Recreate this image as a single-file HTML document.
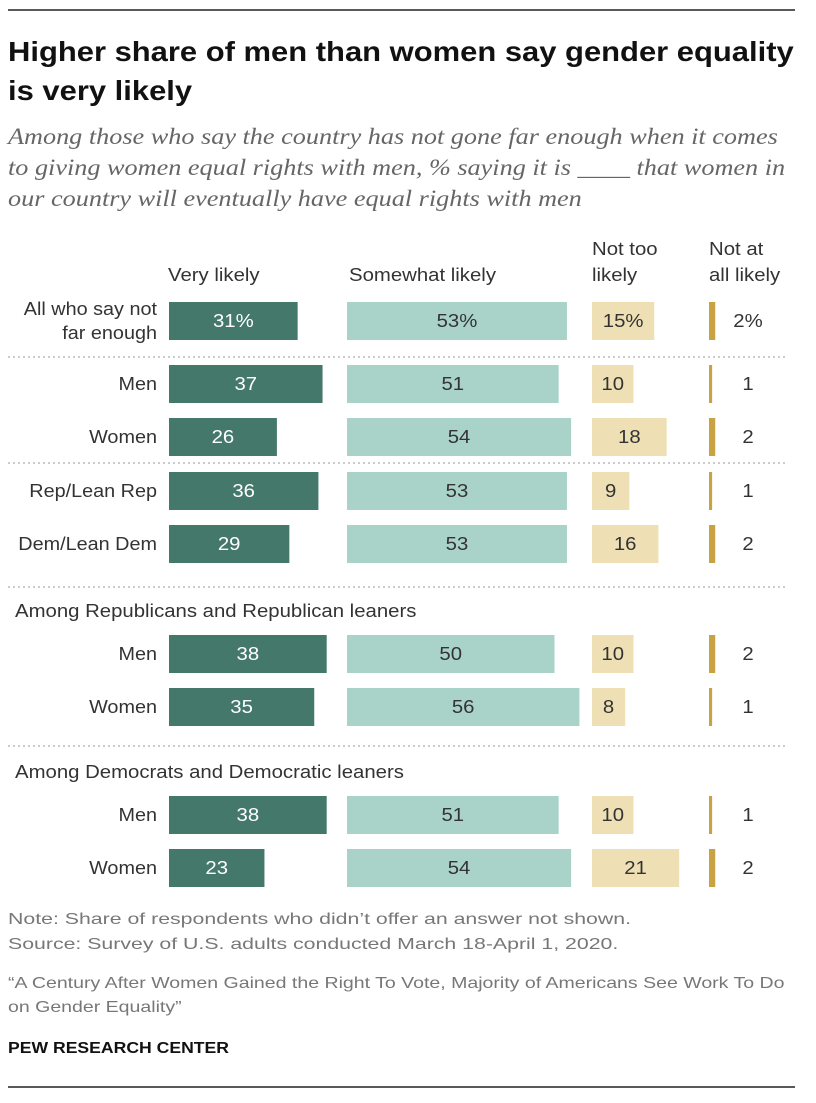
<!DOCTYPE html>
<html><head><meta charset="utf-8">
<style>
body{margin:0;background:#fff;width:816px;height:1098px;overflow:hidden;font-family:"Liberation Sans",sans-serif;}
svg text{font-family:"Liberation Sans",sans-serif;}
</style></head>
<body>
<svg id="chart" width="816" height="1098" xmlns="http://www.w3.org/2000/svg">
<line x1="8" y1="10" x2="795" y2="10" stroke="#222" stroke-width="1.5"/>
<text data-sx="1.105" x="8" y="61" font-size="28" font-weight="bold" fill="#111">Higher share of men than women say gender equality</text>
<text data-sx="1.105" x="8" y="100" font-size="28" font-weight="bold" fill="#111">is very likely</text>
<g font-style="italic" font-size="23" fill="#666">
<text data-sx="1.14" x="8" y="144" style="font-family:'Liberation Serif',serif">Among those who say the country has not gone far enough when it comes</text>
<text data-sx="1.14" x="8" y="175" style="font-family:'Liberation Serif',serif">to giving women equal rights with men, % saying it is ____ that women in</text>
<text data-sx="1.14" x="8" y="206" style="font-family:'Liberation Serif',serif">our country will eventually have equal rights with men</text>
</g>
<g font-size="18" fill="#333">
<text data-sx="1.13" x="168" y="281">Very likely</text>
<text data-sx="1.13" x="349" y="281">Somewhat  likely</text>
<text data-sx="1.13" x="592" y="255">Not too</text><text data-sx="1.13" x="592" y="281">likely</text>
<text data-sx="1.13" x="709" y="255">Not at</text><text data-sx="1.13" x="709" y="281">all likely</text>
</g>
<g id="bars"></g>
<g font-size="16" fill="#777">
<text data-sx="1.33" x="8" y="924">Note: Share of respondents who didn’t offer an answer not shown.</text>
<text data-sx="1.33" x="8" y="949">Source: Survey of U.S. adults conducted March 18-April 1, 2020.</text>
<text data-sx="1.22" x="8" y="988">“A Century After Women Gained the Right To Vote, Majority of Americans See Work To Do</text>
<text data-sx="1.22" x="8" y="1012">on Gender Equality”</text>
</g>
<text data-sx="1.1" x="8" y="1053" font-size="16" font-weight="bold" fill="#111">PEW RESEARCH CENTER</text>
<line x1="8" y1="1087" x2="795" y2="1087" stroke="#222" stroke-width="1.5"/>
</svg>
<script>
const categories = ["All who say not|far enough","Men","Women","Rep/Lean Rep","Dem/Lean Dem","Men","Women","Men","Women"];
const veryLikely = [31,37,26,36,29,38,35,38,23];
const somewhatLikely = [53,51,54,53,53,50,56,51,54];
const notTooLikely = [15,10,18,9,16,10,8,10,21];
const notAtAllLikely = [2,1,2,1,2,2,1,1,2];
const rowCenters = [321,384,437,491,544,654,707,815,868];
const sectionHeaders = ["Among Republicans and Republican leaners","Among Democrats and Democratic leaners"];
const headerY = [617,778];
const separatorY = [357,463,587,746];

const svg = document.getElementById('chart');
const g = document.getElementById('bars');
const NS = "http://www.w3.org/2000/svg";
const scale = 4.15;
const x = v => v*scale;
const cols = [
 {data:veryLikely, x0:169, fill:"#44786a", tc:"#fff", name:"very-likely"},
 {data:somewhatLikely, x0:347, fill:"#a9d3c9", tc:"#333", name:"somewhat-likely"},
 {data:notTooLikely, x0:592, fill:"#eee0b4", tc:"#333", name:"not-too-likely"},
 {data:notAtAllLikely, x0:709, fill:"#c9a244", tc:"#333", name:"not-at-all-likely"}
];
function mk(tag, attrs){const e=document.createElementNS(NS,tag);for(const k in attrs)e.setAttribute(k,attrs[k]);return e;}
separatorY.forEach(y=>{
 const l=mk('line',{x1:8,x2:785,y1:y,y2:y,stroke:'#999','stroke-dasharray':'2,3'});
 
 
 g.appendChild(l);
});
sectionHeaders.forEach((h,i)=>{
 const t=mk('text',{x:15,y:headerY[i],'font-size':18,fill:'#333','data-sx':1.13});t.textContent=h;
 
 
 g.appendChild(t);
});
categories.forEach((c,i)=>{
 const cy=rowCenters[i];
 const lines=c.split('|');
 lines.forEach((ln,j)=>{
  const t=mk('text',{x:157,y:cy+6+(j-(lines.length-1)/2)*24,'font-size':18,fill:'#333','text-anchor':'end','data-sx':1.1});
  t.textContent=ln;
  
  
  g.appendChild(t);
 });
 cols.forEach((col,k)=>{
  const v=col.data[i];
  const w=k===3?Math.max(3,x(v)*0.75):x(v);
  const r=mk('rect',{x:col.x0,y:cy-19,width:w,height:38,fill:col.fill});
  
  
  g.appendChild(r);
  const tx = k===3 ? 748 : col.x0+x(v)/2;
  const t=mk('text',{x:tx,y:cy+6,'font-size':18,fill:col.tc,'text-anchor':'middle','data-sx':1.13});
  t.textContent = v + (i===0?'%':'');
  
  
  g.appendChild(t);
 });
});
document.querySelectorAll('text[data-sx]').forEach(t=>{
 const f=parseFloat(t.getAttribute('data-sx'));
 const L=t.getComputedTextLength();
 t.setAttribute('textLength', (L*f).toFixed(1));
 t.setAttribute('lengthAdjust','spacingAndGlyphs');
});
</script>
</body></html>
